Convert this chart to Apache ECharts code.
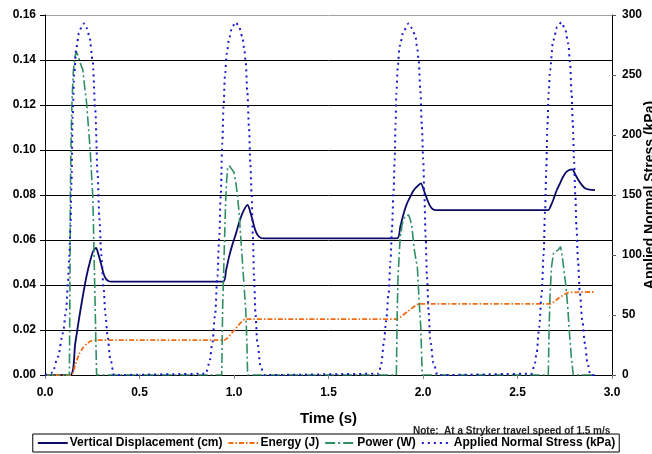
<!DOCTYPE html>
<html>
<head>
<meta charset="utf-8">
<script src="https://cdn.jsdelivr.net/npm/echarts@6/dist/echarts.min.js"></script>
<style>
  html, body { margin: 0; padding: 0; background: #fff; }
  #chart { width: 652px; height: 454px; }
</style>
</head>
<body>
<div id="chart"></div>
<script>
// Stryker pass: displacement, energy and power (left axis), applied stress (right axis)
const xTicks = [0.0, 0.5, 1.0, 1.5, 2.0, 2.5, 3.0];

const dispTime = [0, 0.134, 0.16, 0.18, 0.2, 0.22, 0.24, 0.255, 0.27, 0.283, 0.296, 0.31, 0.322, 0.335, 0.35,
  0.942, 0.958, 0.974, 0.99, 1.009, 1.028, 1.046, 1.072, 1.086, 1.099, 1.112, 1.125, 1.14, 1.16,
  1.862, 1.88, 1.898, 1.915, 1.933, 1.95, 1.968, 1.989, 2.005, 2.02, 2.035, 2.05, 2.07,
  2.663, 2.675, 2.689, 2.707, 2.725, 2.742, 2.76, 2.79, 2.806, 2.822, 2.84, 2.857, 2.88, 2.91];
const dispCm = [0, 0, 0.014, 0.025, 0.035, 0.044, 0.051, 0.055, 0.0565, 0.0535, 0.0496, 0.045, 0.0428, 0.0418, 0.0415,
  0.0415, 0.0465, 0.0526, 0.0575, 0.0625, 0.068, 0.0722, 0.0756, 0.0725, 0.0685, 0.0645, 0.0622, 0.061, 0.0607,
  0.0607, 0.066, 0.0719, 0.0762, 0.0793, 0.082, 0.0837, 0.0852, 0.082, 0.0785, 0.0755, 0.0738, 0.0733,
  0.0733, 0.075, 0.0778, 0.082, 0.0852, 0.0882, 0.0904, 0.0914, 0.089, 0.0867, 0.0845, 0.083, 0.0824, 0.0822];

const energyTime = [0, 0.138, 0.16, 0.18, 0.2, 0.22, 0.24, 0.27,
  0.947, 1.0, 1.062, 1.857, 1.92, 1.98, 2.673, 2.72, 2.77, 2.91];
const energyJ = [0, 0, 0.0045, 0.0092, 0.012, 0.0138, 0.015, 0.0155,
  0.0155, 0.0198, 0.0248, 0.0248, 0.0283, 0.0316, 0.0316, 0.0343, 0.0366, 0.0369];

const powerTime = [0, 0.129, 0.132, 0.134, 0.138, 0.143, 0.15, 0.158, 0.165, 0.175, 0.185, 0.2, 0.21, 0.22, 0.23,
  0.239, 0.247, 0.253, 0.258, 0.263, 0.268, 0.273,
  0.935, 0.94, 0.947, 0.955, 0.96, 0.966, 0.975, 0.988, 1.0, 1.009, 1.018, 1.026, 1.035, 1.044, 1.053, 1.062, 1.068, 1.072,
  1.859, 1.864, 1.868, 1.875, 1.88, 1.89, 1.898, 1.912, 1.924, 1.933, 1.941, 1.955, 1.97, 1.978, 1.988, 1.996,
  2.663, 2.667, 2.672, 2.68, 2.69, 2.703, 2.715, 2.728, 2.738, 2.748, 2.757, 2.766, 2.775, 2.785, 2.795, 2.91];
const powerW = [0, 0, 0.04, 0.079, 0.105, 0.122, 0.135, 0.141, 0.1437, 0.142, 0.139, 0.1356, 0.128, 0.121, 0.11,
  0.1, 0.088, 0.079, 0.06, 0.04, 0.02, 0,
  0, 0.03, 0.051, 0.075, 0.085, 0.092, 0.093, 0.0915, 0.09, 0.086, 0.08, 0.073, 0.062, 0.051, 0.04, 0.029, 0.015, 0,
  0, 0.03, 0.0437, 0.055, 0.0615, 0.067, 0.0696, 0.071, 0.0711, 0.069, 0.066, 0.055, 0.048, 0.035, 0.0215, 0,
  0, 0.02, 0.035, 0.048, 0.054, 0.0551, 0.0555, 0.057, 0.052, 0.045, 0.039, 0.03, 0.0186, 0.008, 0, 0];

const stressTime = [0, 0.04, 0.068, 0.095, 0.112, 0.121, 0.129, 0.135, 0.14, 0.146, 0.155, 0.165, 0.18, 0.195, 0.208,
  0.222, 0.236, 0.252, 0.266, 0.278, 0.288, 0.298, 0.31, 0.32, 0.33, 0.345, 0.365,
  0.85, 0.87, 0.885, 0.9, 0.912, 0.922, 0.93, 0.938, 0.945, 0.952, 0.962, 0.974, 0.99, 1.009, 1.027, 1.044,
  1.054, 1.062, 1.071, 1.079, 1.087, 1.093, 1.1, 1.106, 1.114, 1.123, 1.14, 1.158,
  1.766, 1.78, 1.792, 1.805, 1.818, 1.828, 1.836, 1.844, 1.85, 1.855, 1.859, 1.867, 1.876, 1.898, 1.924, 1.942,
  1.96, 1.969, 1.977, 1.986, 1.994, 2.001, 2.007, 2.014, 2.021, 2.03, 2.038, 2.055, 2.077,
  2.575, 2.59, 2.601, 2.615, 2.628, 2.638, 2.646, 2.652, 2.658, 2.665, 2.672, 2.689, 2.71, 2.733, 2.752,
  2.769, 2.778, 2.786, 2.793, 2.799, 2.806, 2.812, 2.82, 2.83, 2.843, 2.857, 2.87, 2.886, 2.91];
const stressKPa = [0, 2, 15, 35, 54, 76, 100, 125, 160, 215, 252, 272, 285, 291, 293,
  289, 281, 262, 221, 168, 130, 100, 72, 50, 34, 14, 0,
  1, 10, 26, 50, 82, 115, 151, 193, 225, 249, 268, 280, 290, 294, 290, 282,
  272, 260, 235, 207, 175, 151, 115, 82, 50, 28, 8, 0,
  1, 10, 26, 45, 68, 95, 123, 152, 179, 210, 235, 258, 274, 287, 293, 289,
  282, 273, 262, 237, 207, 180, 151, 115, 82, 52, 30, 10, 0,
  1, 8, 18, 40, 68, 100, 137, 170, 207, 235, 254, 279, 290, 294, 288,
  276, 260, 235, 208, 179, 150, 123, 95, 68, 45, 26, 10, 0, 0];

const zip = (xs, ys) => xs.map((x, i) => [x, ys[i]]);

const FONT = '"Liberation Sans", Arial, sans-serif';
const chart = echarts.init(document.getElementById('chart'), null, { renderer: 'canvas' });

const leftGrid = ['#000', '#000', '#000', '#000', '#000', '#000', '#000', '#000', '#a0a0a0'];

chart.setOption({
  animation: false,
  backgroundColor: '#fff',
  grid: { left: 45, right: 40, top: 15, bottom: 79, containLabel: false, outerBoundsMode: 'none' },
  legend: {
    data: ['Vertical Displacement (cm)', 'Energy (J)', 'Power (W)', 'Applied Normal Stress (kPa)'],
    left: 'center',
    top: 434,
    itemWidth: 30,
    itemHeight: 10,
    itemGap: 5,
    padding: [3, 4],
    borderColor: '#000',
    borderWidth: 1,
    itemStyle: { opacity: 0 },
    textStyle: { fontFamily: FONT, fontWeight: 'bold', fontSize: 12, color: '#000', padding: [0, 0, 0, -3] }
  },
  xAxis: {
    type: 'value',
    min: xTicks[0],
    max: xTicks[xTicks.length - 1],
    interval: 0.5,
    name: 'Time (s)',
    nameLocation: 'middle',
    nameGap: 36,
    nameMoveOverlap: false,
    nameTextStyle: { fontFamily: FONT, fontWeight: 'bold', fontSize: 15, color: '#000' },
    axisLine: { lineStyle: { color: '#000', width: 1 } },
    axisTick: { show: true, length: 4, lineStyle: { color: '#888' } },
    axisLabel: { fontFamily: FONT, fontWeight: 'bold', fontSize: 12, color: '#000', margin: 12,
      formatter: v => v.toFixed(1) },
    splitLine: { show: false }
  },
  yAxis: [
    {
      type: 'value', min: 0, max: 0.16, interval: 0.02, position: 'left',
      axisLine: { show: true, lineStyle: { color: '#000', width: 1 } },
      axisTick: { show: true, length: 5, lineStyle: { color: '#000' } },
      axisLabel: { fontFamily: FONT, fontWeight: 'bold', fontSize: 12, color: '#000', margin: 9,
        formatter: v => v.toFixed(2) },
      splitLine: { show: true, lineStyle: { color: leftGrid, width: 1 } }
    },
    {
      type: 'value', min: 0, max: 300, interval: 50, position: 'right',
      name: 'Applied Normal Stress (kPa)',
      nameLocation: 'middle',
      nameRotate: 90,
      nameGap: 31,
      nameMoveOverlap: false,
      nameTextStyle: { fontFamily: FONT, fontWeight: 'bold', fontSize: 14, color: '#000' },
      axisLine: { show: true, lineStyle: { color: '#000', width: 1 } },
      axisTick: { show: true, length: 4, lineStyle: { color: '#555' } },
      axisLabel: { fontFamily: FONT, fontWeight: 'bold', fontSize: 12, color: '#000', margin: 10 },
      splitLine: { show: false }
    }
  ],
  graphic: [{
    type: 'text',
    left: 413,
    top: 426,
    style: {
      text: 'Note:  At a Stryker travel speed of 1.5 m/s',
      font: 'bold 10px ' + FONT,
      fill: '#222'
    }
  }],
  series: [
    {
      name: 'Vertical Displacement (cm)', type: 'line', yAxisIndex: 0,
      data: zip(dispTime, dispCm), showSymbol: false, symbol: 'none',
      smooth: 0.25,
      lineStyle: { color: '#0b0b66', width: 1.8 },
      itemStyle: { color: '#0b0b66' }
    },
    {
      name: 'Energy (J)', type: 'line', yAxisIndex: 0,
      data: zip(energyTime, energyJ), showSymbol: false, symbol: 'none',
      smooth: 0.2,
      lineStyle: { color: '#f26b12', width: 1.8, type: [5, 2, 1.5, 2] },
      itemStyle: { color: '#f26b12' }
    },
    {
      name: 'Power (W)', type: 'line', yAxisIndex: 0,
      data: zip(powerTime, powerW), showSymbol: false, symbol: 'none',
      lineStyle: { color: '#2f8f63', width: 1.6, type: [10, 3, 2, 3] },
      itemStyle: { color: '#2f8f63' }
    },
    {
      name: 'Applied Normal Stress (kPa)', type: 'line', yAxisIndex: 1,
      data: zip(stressTime, stressKPa), showSymbol: false, symbol: 'none',
      smooth: 0.3, smoothMonotone: 'x',
      lineStyle: { color: '#1a1acc', width: 2, type: [2, 4] },
      itemStyle: { color: '#1a1acc' }
    }
  ]
});
</script>
</body>
</html>
